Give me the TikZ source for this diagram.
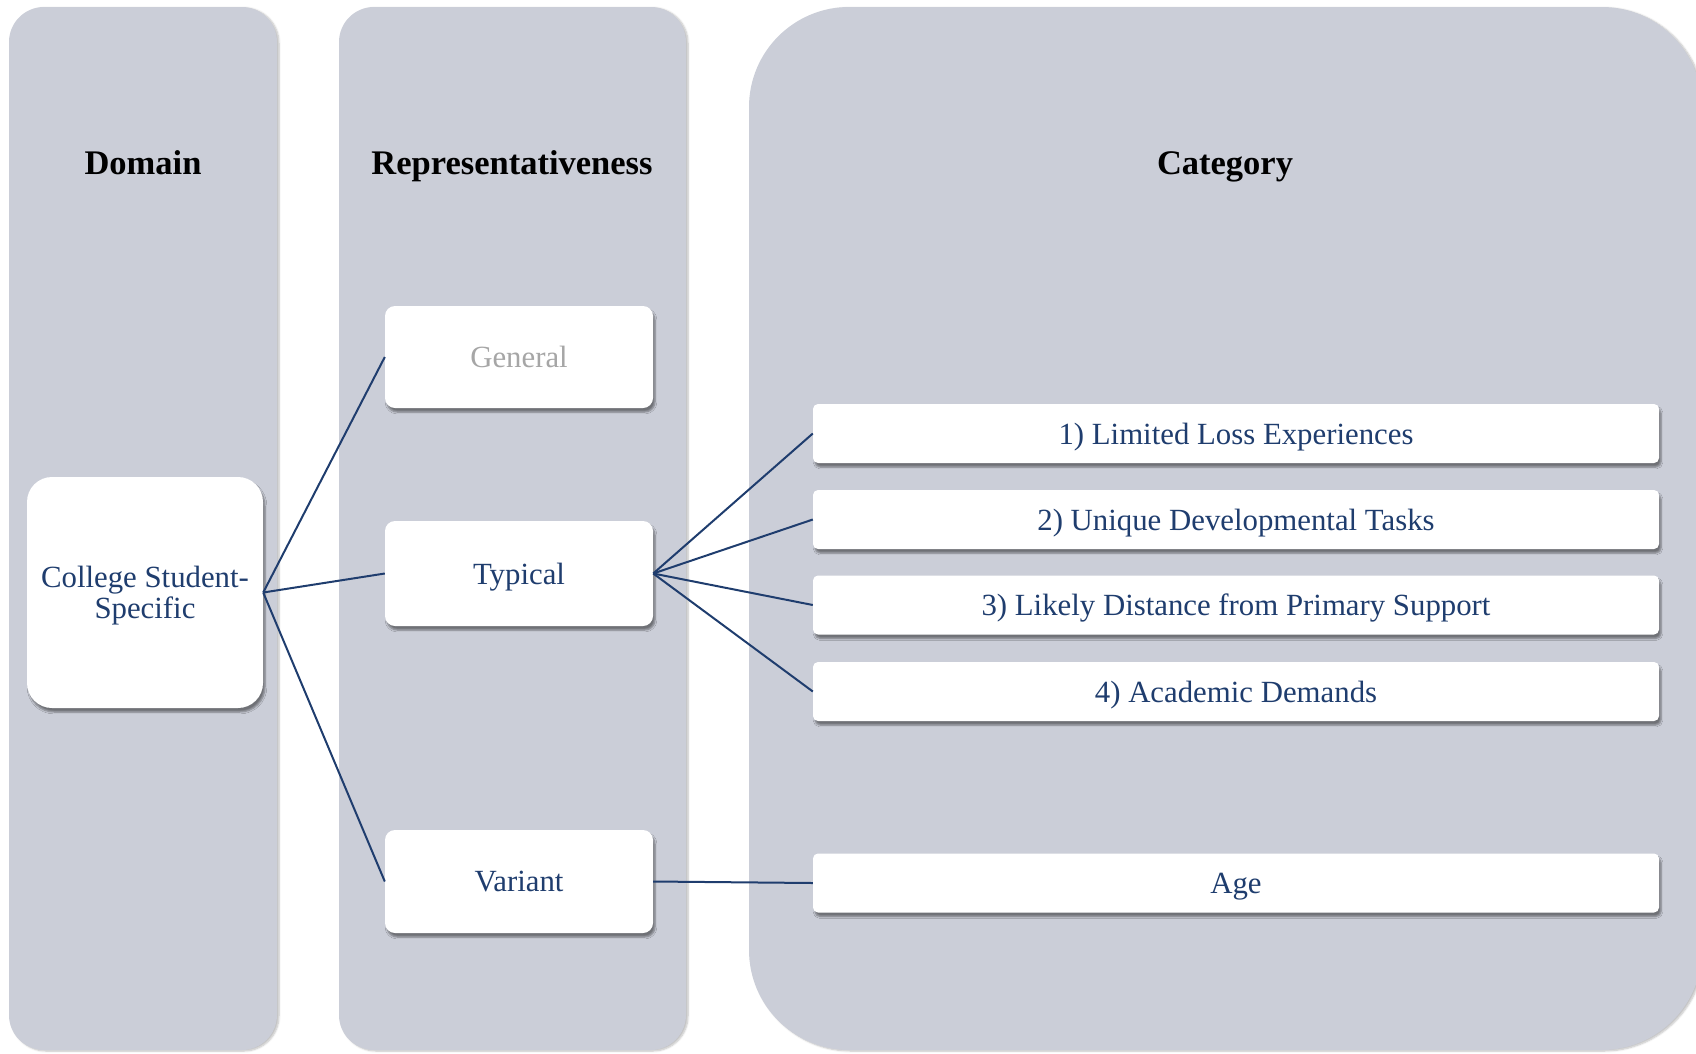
\documentclass[tikz,border=0pt]{standalone}
\usepackage{fontspec}
\setmainfont{Liberation Serif}
\usetikzlibrary{shadows.blur}

\definecolor{colfill}{RGB}{203,206,216}
\definecolor{navy}{RGB}{31,61,110}
\definecolor{dimgray}{RGB}{166,166,166}

\tikzset{
  column/.style={fill=colfill, draw=none,
    blur shadow={shadow xshift=2pt, shadow yshift=-1pt, shadow blur steps=6, shadow opacity=25}},
  box/.style={fill=white, draw=none, inner sep=0pt, align=center, text=navy,
    font=\fontsize{30.8}{31}\selectfont, text depth=0pt,
    blur shadow={shadow xshift=2pt, shadow yshift=-4pt, shadow blur steps=5, shadow opacity=45}},
  repbox/.style={box, rounded corners=10pt, minimum width=268pt},
  catbox/.style={box, rounded corners=5pt, minimum width=846pt, minimum height=59pt},
  header/.style={font=\fontsize{34.5}{36}\selectfont\bfseries, text=black, inner sep=0pt,
    text depth=0pt},
  link/.style={draw=navy, line width=2pt}
}

\begin{document}
\begin{tikzpicture}[x=1pt, y=-1pt]
  \useasboundingbox (0,0) rectangle (1696,1053);
  \clip (0,0) rectangle (1696,1053);

  % three column panels
  \fill[column, rounded corners=35pt] (9,7) rectangle (277,1050);
  \fill[column, rounded corners=35pt] (339,7) rectangle (686,1050);
  \fill[column, rounded corners=100pt] (749,7) rectangle (1702,1050);

  % column headings
  \node[header] (hdom) at (143,163) {Domain};
  \node[header] (hrep) at (512,163) {Representativeness};
  \node[header] (hcat) at (1225,163) {Category};

  % domain
  \node[box, rounded corners=25pt, minimum width=236pt, minimum height=231pt]
        (coll) at (145,592.5) {College Student-\\Specific};

  % representativeness
  \node[repbox, minimum height=102pt, text=dimgray] (gen) at (519,357) {General};
  \node[repbox, minimum height=105pt] (typ) at (519,573.5) {Typical};
  \node[repbox, minimum height=103pt] (var) at (519,881.5) {Variant};

  % categories
  \node[catbox] (c1) at (1236,433.5) {1) Limited Loss Experiences};
  \node[catbox] (c2) at (1236,519.5) {2) Unique Developmental Tasks};
  \node[catbox] (c3) at (1236,605) {3) Likely Distance from Primary Support};
  \node[catbox] (c4) at (1236,691.5) {4) Academic Demands};
  \node[catbox] (age) at (1236,883) {Age};

  % connectors
  \draw[link] (coll.east) -- (gen.west);
  \draw[link] (coll.east) -- (typ.west);
  \draw[link] (coll.east) -- (var.west);
  \draw[link] (typ.east) -- (c1.west);
  \draw[link] (typ.east) -- (c2.west);
  \draw[link] (typ.east) -- (c3.west);
  \draw[link] (typ.east) -- (c4.west);
  \draw[link] (var.east) -- (age.west);
\end{tikzpicture}
\end{document}
